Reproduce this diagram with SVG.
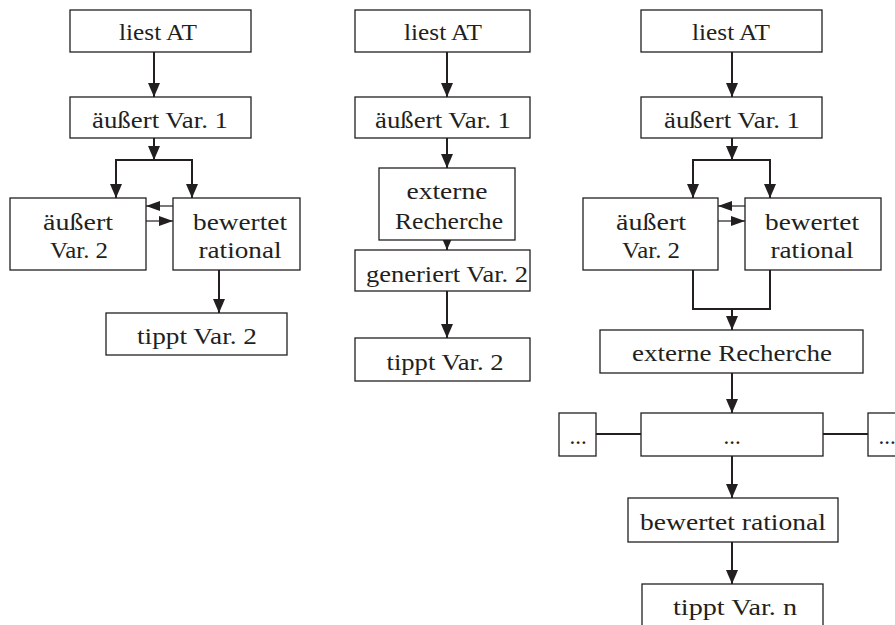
<svg xmlns="http://www.w3.org/2000/svg" width="895" height="625" viewBox="0 0 895 625">
<style>
.b{fill:#fff;stroke:#231f20;stroke-width:1.3}
.t{font-family:"Liberation Serif","Times New Roman",serif;font-size:23px;fill:#231f20;text-anchor:middle}
.c{fill:none;stroke:#231f20;stroke-width:2}
.s{fill:none;stroke:#231f20;stroke-width:1.2}
</style>
<defs>
<marker id="ah" markerUnits="userSpaceOnUse" markerWidth="15" markerHeight="12" refX="14" refY="6" orient="auto">
<path d="M0,0 L14,6 L0,12 z" fill="#231f20"/>
</marker>
<marker id="as" markerUnits="userSpaceOnUse" markerWidth="15" markerHeight="11" refX="14" refY="5" orient="auto">
<path d="M0,0 L14,5 L0,10 z" fill="#231f20"/>
</marker>
</defs>
<rect width="895" height="625" fill="#fff"/>
<g id="connectors">
<!-- column 1 -->
<line class="c" x1="154" y1="52" x2="154" y2="97" marker-end="url(#ah)"/>
<line class="c" x1="154" y1="138" x2="154" y2="160" marker-end="url(#ah)"/>
<polyline class="c" points="116,198 116,160 192,160 192,198"/>
<line class="c" x1="116" y1="180" x2="116" y2="198" marker-end="url(#ah)"/>
<line class="c" x1="192" y1="180" x2="192" y2="198" marker-end="url(#ah)"/>
<line class="s" x1="173" y1="206" x2="146" y2="206" marker-end="url(#as)"/>
<line class="s" x1="146" y1="221" x2="173" y2="221" marker-end="url(#as)"/>
<line class="c" x1="219" y1="270" x2="219" y2="313" marker-end="url(#ah)"/>
<!-- column 2 -->
<line class="c" x1="447" y1="52" x2="447" y2="97" marker-end="url(#ah)"/>
<line class="c" x1="447" y1="138" x2="447" y2="168" marker-end="url(#ah)"/>
<line class="c" x1="447" y1="240" x2="447" y2="250" marker-end="url(#ah)"/>
<line class="c" x1="447" y1="291" x2="447" y2="338" marker-end="url(#ah)"/>
<!-- column 3 -->
<line class="c" x1="732" y1="52" x2="732" y2="97" marker-end="url(#ah)"/>
<line class="c" x1="732" y1="138" x2="732" y2="160" marker-end="url(#ah)"/>
<polyline class="c" points="693,198 693,160 770,160 770,198"/>
<line class="c" x1="693" y1="180" x2="693" y2="198" marker-end="url(#ah)"/>
<line class="c" x1="770" y1="180" x2="770" y2="198" marker-end="url(#ah)"/>
<line class="s" x1="745" y1="206" x2="718" y2="206" marker-end="url(#as)"/>
<line class="s" x1="718" y1="221" x2="745" y2="221" marker-end="url(#as)"/>
<polyline class="c" points="693,270 693,309 770,309 770,270"/>
<line class="c" x1="732" y1="309" x2="732" y2="330" marker-end="url(#ah)"/>
<line class="c" x1="732" y1="373" x2="732" y2="413" marker-end="url(#ah)"/>
<line class="c" x1="596" y1="434" x2="641" y2="434"/>
<line class="c" x1="823" y1="434" x2="868" y2="434"/>
<line class="c" x1="732" y1="456" x2="732" y2="498" marker-end="url(#ah)"/>
<line class="c" x1="732" y1="542" x2="732" y2="584" marker-end="url(#ah)"/>
</g>
<!-- column 1 nodes -->
<g id="c1-liest"><rect class="b" x="70" y="10" width="181" height="42"/><text class="t" x="158" y="40" textLength="78" lengthAdjust="spacingAndGlyphs">liest AT</text></g>
<g id="c1-var1"><rect class="b" x="70" y="97" width="181" height="41"/><text class="t" x="160" y="128" textLength="136" lengthAdjust="spacingAndGlyphs">äußert Var. 1</text></g>
<g id="c1-var2"><rect class="b" x="10" y="198" width="136" height="72"/><text class="t" x="78" y="230" textLength="70" lengthAdjust="spacingAndGlyphs">äußert</text><text class="t" x="79" y="258" textLength="58" lengthAdjust="spacingAndGlyphs">Var. 2</text></g>
<g id="c1-bewertet"><rect class="b" x="173" y="198" width="127" height="72"/><text class="t" x="240" y="230" textLength="94" lengthAdjust="spacingAndGlyphs">bewertet</text><text class="t" x="240" y="258" textLength="83" lengthAdjust="spacingAndGlyphs">rational</text></g>
<g id="c1-tippt"><rect class="b" x="106" y="313" width="181" height="42"/><text class="t" x="197" y="344" textLength="120" lengthAdjust="spacingAndGlyphs">tippt Var. 2</text></g>
<!-- column 2 nodes -->
<g id="c2-liest"><rect class="b" x="355" y="10" width="175" height="42"/><text class="t" x="443" y="40" textLength="78" lengthAdjust="spacingAndGlyphs">liest AT</text></g>
<g id="c2-var1"><rect class="b" x="355" y="97" width="175" height="41"/><text class="t" x="443" y="128" textLength="136" lengthAdjust="spacingAndGlyphs">äußert Var. 1</text></g>
<g id="c2-extern"><rect class="b" x="379" y="168" width="136" height="72"/><text class="t" x="447" y="199" textLength="81" lengthAdjust="spacingAndGlyphs">externe</text><text class="t" x="449" y="229" textLength="108" lengthAdjust="spacingAndGlyphs">Recherche</text></g>
<g id="c2-generiert"><rect class="b" x="355" y="250" width="175" height="41"/><text class="t" x="447" y="282" textLength="162" lengthAdjust="spacingAndGlyphs">generiert Var. 2</text></g>
<g id="c2-tippt"><rect class="b" x="355" y="338" width="175" height="43"/><text class="t" x="445" y="370" textLength="117" lengthAdjust="spacingAndGlyphs">tippt Var. 2</text></g>
<!-- column 3 nodes -->
<g id="c3-liest"><rect class="b" x="641" y="10" width="181" height="42"/><text class="t" x="731" y="40" textLength="78" lengthAdjust="spacingAndGlyphs">liest AT</text></g>
<g id="c3-var1"><rect class="b" x="641" y="97" width="181" height="41"/><text class="t" x="732" y="128" textLength="136" lengthAdjust="spacingAndGlyphs">äußert Var. 1</text></g>
<g id="c3-var2"><rect class="b" x="583" y="198" width="135" height="72"/><text class="t" x="651" y="230" textLength="70" lengthAdjust="spacingAndGlyphs">äußert</text><text class="t" x="651" y="258" textLength="58" lengthAdjust="spacingAndGlyphs">Var. 2</text></g>
<g id="c3-bewertet"><rect class="b" x="745" y="198" width="136" height="72"/><text class="t" x="812" y="230" textLength="94" lengthAdjust="spacingAndGlyphs">bewertet</text><text class="t" x="812" y="258" textLength="83" lengthAdjust="spacingAndGlyphs">rational</text></g>
<g id="c3-extern"><rect class="b" x="600" y="330" width="263" height="43"/><text class="t" x="732" y="361" textLength="200" lengthAdjust="spacingAndGlyphs">externe Recherche</text></g>
<g id="c3-dots-left"><rect class="b" x="559" y="413" width="37" height="43"/><text class="t" x="578" y="444">...</text></g>
<g id="c3-dots-mid"><rect class="b" x="641" y="413" width="182" height="43"/><text class="t" x="732" y="444">...</text></g>
<g id="c3-dots-right"><rect class="b" x="868" y="413" width="37" height="43"/><text class="t" x="887" y="444">...</text></g>
<g id="c3-bewertet2"><rect class="b" x="628" y="498" width="210" height="44"/><text class="t" x="733" y="530" textLength="186" lengthAdjust="spacingAndGlyphs">bewertet rational</text></g>
<g id="c3-tippt"><rect class="b" x="642" y="584" width="181" height="60"/><text class="t" x="735" y="615" textLength="124" lengthAdjust="spacingAndGlyphs">tippt Var. n</text></g>
</svg>
